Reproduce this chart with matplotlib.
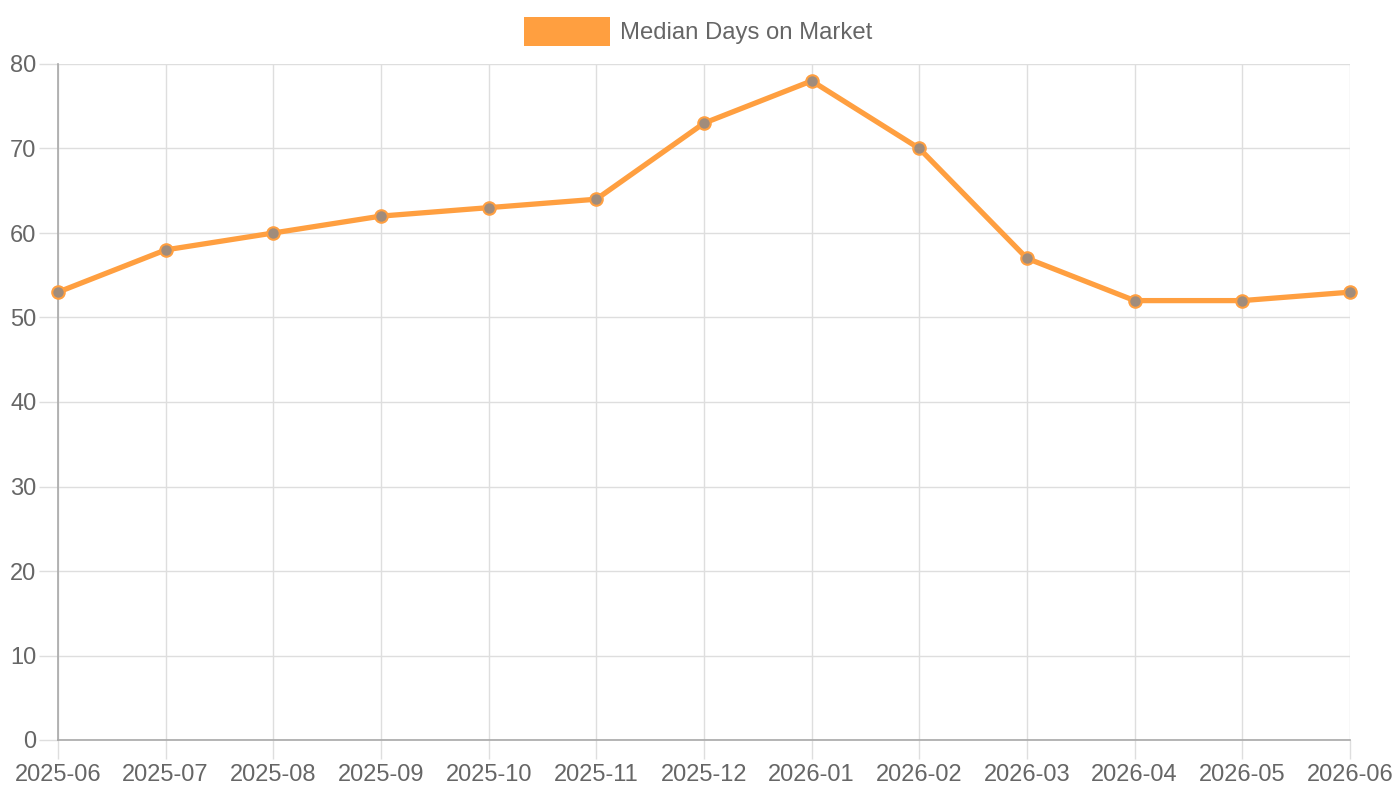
import matplotlib.pyplot as plt
from matplotlib.patches import Rectangle

# Data
months = ['2025-06', '2025-07', '2025-08', '2025-09', '2025-10', '2025-11', '2025-12',
          '2026-01', '2026-02', '2026-03', '2026-04', '2026-05', '2026-06']
median_days = [53, 58, 60, 62, 63, 64, 73, 78, 70, 57, 52, 52, 53]
series_label = 'Median Days on Market'
y_ticks = [0, 10, 20, 30, 40, 50, 60, 70, 80]

orange = '#ff9f40'
grid_col = '#dedede'
text_col = '#666666'

plt.rcParams['font.family'] = ['Liberation Sans', 'DejaVu Sans']

fig = plt.figure(figsize=(14, 8), dpi=100)
ax = fig.add_axes([58 / 1400, 1 - 740 / 800, (1350 - 58) / 1400, (740 - 64) / 800])

x = list(range(len(months)))
ax.plot(x, median_days, color=orange, linewidth=3.8, zorder=3,
        solid_joinstyle='round', clip_on=False)
ax.plot(x, median_days, linestyle='none', marker='o', markersize=9,
        markerfacecolor='#a08c7c', markeredgecolor=orange, markeredgewidth=1.5,
        zorder=4, clip_on=False)

ax.set_xlim(0, len(months) - 1)
ax.set_ylim(0, 80)
ax.set_xticks(x)
ax.set_xticklabels(months)
ax.set_yticks(y_ticks)

ax.grid(True, color=grid_col, linewidth=1)
ax.set_axisbelow(True)
ax.tick_params(axis='both', length=14, width=1, color=grid_col, labelcolor=text_col, labelsize=17)
ax.tick_params(axis='y', pad=1.5)
ax.tick_params(axis='x', pad=3.5)

for side in ['top', 'right']:
    ax.spines[side].set_visible(False)
for side in ['left', 'bottom']:
    ax.spines[side].set_color('#a8a8a8')
    ax.spines[side].set_linewidth(1.2)

# Legend drawn like the Chart.js header
fig.add_artist(Rectangle((524 / 1400, 1 - 46 / 800), 86 / 1400, 29 / 800,
                         transform=fig.transFigure, facecolor=orange, edgecolor='none'))
fig.text(620 / 1400, 1 - 33 / 800, series_label, color=text_col, fontsize=17.2,
         ha='left', va='center')

plt.savefig('out.png', dpi=100)
